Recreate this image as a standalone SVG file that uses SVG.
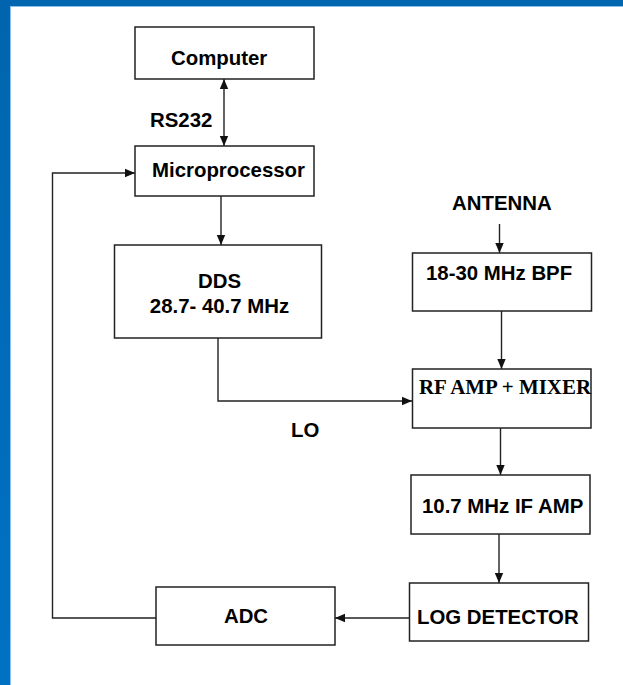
<svg xmlns="http://www.w3.org/2000/svg" width="623" height="685" viewBox="0 0 623 685">
<style>
.box{fill:#fff;stroke:#222;stroke-width:1.5}
.t{font-family:"Liberation Sans",Arial,sans-serif;font-weight:bold;font-size:20.4px;fill:#000}
.ts{font-family:"Liberation Serif","Times New Roman",serif;font-weight:bold;font-size:20.4px;fill:#000}
.c{fill:none;stroke:#222;stroke-width:1.4}
</style>
<defs>
<linearGradient id="lg" x1="0" y1="0" x2="0" y2="1">
<stop offset="0" stop-color="#0065ae"/>
<stop offset="1" stop-color="#0072c4"/>
</linearGradient>
<marker id="ah" markerUnits="userSpaceOnUse" markerWidth="10" markerHeight="10" refX="10" refY="5" orient="auto-start-reverse" viewBox="0 0 10 10">
<path d="M0,0.8 L10,5 L0,9.2 Z" fill="#111"/>
</marker>
</defs>
<rect x="0" y="0" width="623" height="685" fill="#fff"/>
<rect x="0" y="0" width="623" height="6" fill="#0066b0"/>
<rect x="0" y="0" width="10" height="685" fill="url(#lg)"/>
<line x1="10.5" y1="6" x2="10.5" y2="685" stroke="#8cc0ea" stroke-width="1"/>
<line x1="10" y1="6.5" x2="623" y2="6.5" stroke="#8cc0ea" stroke-width="1"/>

<g id="connectors">
<line class="c" x1="224" y1="79" x2="224" y2="146" marker-start="url(#ah)" marker-end="url(#ah)"/>
<line class="c" x1="221" y1="196" x2="221" y2="245" marker-end="url(#ah)"/>
<path class="c" d="M218,338 V401 H412" marker-end="url(#ah)"/>
<line class="c" x1="499.5" y1="224" x2="499.5" y2="253" marker-end="url(#ah)"/>
<line class="c" x1="501.5" y1="311" x2="501.5" y2="369" marker-end="url(#ah)"/>
<line class="c" x1="500.5" y1="428" x2="500.5" y2="475" marker-end="url(#ah)"/>
<line class="c" x1="499" y1="534" x2="499" y2="583" marker-end="url(#ah)"/>
<line class="c" x1="409" y1="618" x2="335" y2="618" marker-end="url(#ah)"/>
<path class="c" d="M156,618 H52.5 V173 H135" marker-end="url(#ah)"/>
</g>

<g id="computer">
<rect class="box" x="135" y="27" width="179" height="52"/>
<text class="t" x="171" y="65">Computer</text>
</g>
<text id="rs232" class="t" x="150" y="127">RS232</text>
<g id="microprocessor">
<rect class="box" x="135" y="146" width="179" height="50"/>
<text class="t" x="152" y="177">Microprocessor</text>
</g>
<g id="dds">
<rect class="box" x="114.5" y="245" width="207" height="93"/>
<text class="t" x="219.5" y="288" text-anchor="middle">DDS</text>
<text class="t" x="219.5" y="313" text-anchor="middle">28.7- 40.7 MHz</text>
</g>
<text id="lo" class="t" x="291" y="437">LO</text>
<text id="antenna" class="t" x="452" y="210">ANTENNA</text>
<g id="bpf">
<rect class="box" x="412.5" y="253" width="179" height="58"/>
<text class="t" x="426" y="280">18-30 MHz BPF</text>
</g>
<g id="rfamp">
<rect class="box" x="412.5" y="369" width="178.5" height="59"/>
<text class="ts" x="419" y="394" textLength="172" lengthAdjust="spacingAndGlyphs">RF AMP + MIXER</text>
</g>
<g id="ifamp">
<rect class="box" x="411" y="475" width="179" height="59"/>
<text class="t" x="422" y="513">10.7 MHz IF AMP</text>
</g>
<g id="logdet">
<rect class="box" x="409.5" y="583" width="179" height="58"/>
<text class="t" x="417" y="624">LOG DETECTOR</text>
</g>
<g id="adc">
<rect class="box" x="156" y="587" width="179" height="58"/>
<text class="t" x="246" y="623" text-anchor="middle">ADC</text>
</g>
</svg>
